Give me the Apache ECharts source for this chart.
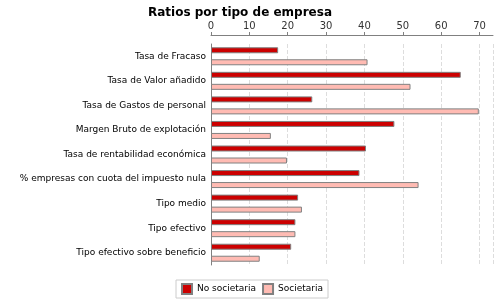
<!DOCTYPE html>
<html>
<head>
<meta charset="utf-8">
<script src="https://cdn.jsdelivr.net/npm/echarts@6/dist/echarts.min.js"></script>
<style>
  html, body { margin: 0; padding: 0; background: #fff; }
  #chart { width: 500px; height: 300px; }
</style>
</head>
<body>
<div id="chart"></div>
<script>
// categorias (de arriba a abajo)
const categories = [
  "Tasa de Fracaso",
  "Tasa de Valor añadido",
  "Tasa de Gastos de personal",
  "Margen Bruto de explotación",
  "Tasa de rentabilidad económica",
  "% empresas con cuota del impuesto nula",
  "Tipo medio",
  "Tipo efectivo",
  "Tipo efectivo sobre beneficio",
];
const noSocietaria = [17.5, 65.1, 26.4, 47.8, 40.4, 38.7, 22.7, 22.0, 20.9];
const societaria = [40.8, 52.0, 69.8, 15.6, 19.8, 54.1, 23.7, 22.0, 12.7];

const chart = echarts.init(document.getElementById("chart"));
const font = "DejaVu Sans";

chart.setOption({
  animation: false,
  backgroundColor: "#fff",
  title: {
    text: "Ratios por tipo de empresa",
    left: 143,
    top: 2,
    textStyle: { fontFamily: font, fontSize: 12, fontWeight: "bold", color: "#000" },
  },
  legend: {
    bottom: 2,
    left: 176,
    icon: "rect",
    itemWidth: 10,
    itemHeight: 10,
    itemGap: 6,
    padding: [3, 5],
    borderColor: "#ccc",
    borderWidth: 1,
    textStyle: { fontFamily: font, fontSize: 9, color: "#000" },
    data: ["No societaria", "Societaria"],
  },
  grid: { left: 211, right: 7, top: 44, height: 221 },
  xAxis: {
    type: "value",
    position: "top",
    offset: 9,
    min: 0,
    max: 73.5,
    interval: 10,
    axisLine: { show: true, lineStyle: { color: "#808080" } },
    axisTick: { show: true, length: 3, lineStyle: { color: "#808080" } },
    axisLabel: { showMaxLabel: false, fontFamily: font, fontSize: 10, color: "#333", margin: 4 },
    splitLine: { show: true, lineStyle: { color: "#ddd", type: "dashed" } },
  },
  yAxis: {
    type: "category",
    inverse: true,
    data: categories,
    axisLine: { show: true, lineStyle: { color: "#808080" } },
    axisTick: { show: false },
    axisLabel: { fontFamily: font, fontSize: 9, color: "#000", margin: 5 },
  },
  series: [
    {
      name: "No societaria",
      type: "bar",
      data: noSocietaria,
      barWidth: 6,
      barGap: "100%",
      itemStyle: { color: "#cc0000", borderColor: "#808080", borderWidth: 1 },
    },
    {
      name: "Societaria",
      type: "bar",
      data: societaria,
      barWidth: 6,
      itemStyle: { color: "#ffbbb3", borderColor: "#808080", borderWidth: 1 },
    },
  ],
});
</script>
</body>
</html>
